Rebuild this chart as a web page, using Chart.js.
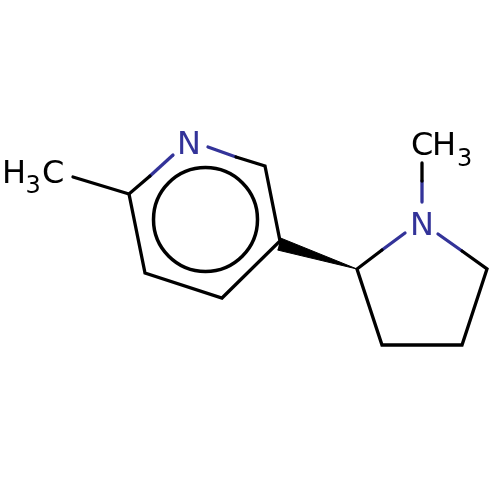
<!DOCTYPE html>
<html>
<head>
<meta charset="utf-8">
<style>html,body{margin:0;padding:0;background:#fff}canvas{display:block}</style>
<script src="https://cdn.jsdelivr.net/npm/chart.js@4"></script>
</head>
<body>
<canvas id="c" width="500" height="500"></canvas>
<script>
const blackBonds = [
  [[73,177],[129,194],[150,176]],
  [[236,157],[265,166],[280,241],[222,298],[145,273],[129,194]],
  [[382,250],[357,269],[382,345],[462,345],[487,269],[462,251]],
  [[422,163],[422,181]]
];
const blueBonds = [
  [[150,176],[173,155]],
  [[208,147],[236,157]],
  [[382,250],[405,233]],
  [[438,234],[462,251]],
  [[422,181],[422,202]]
];
const wedge = [[280.5,238],[357,269],[277.5,250]];
const ringCentre = [205.5,219.5];
const labels = [
  {t:'H',x:2,y:183,s:32,c:'#000000'},
  {t:'3',x:25.5,y:193,s:24,c:'#000000'},
  {t:'C',x:42,y:183,s:32,c:'#000000'},
  {t:'N',x:177,y:154,s:32,c:'#333399'},
  {t:'N',x:410,y:235,s:32,c:'#333399'},
  {t:'C',x:411,y:155,s:32,c:'#000000'},
  {t:'H',x:432,y:155,s:32,c:'#000000'},
  {t:'3',x:457,y:166,s:24,c:'#000000'}
];
const toPts = a => a.map(p => ({x:p[0],y:p[1]}));
const lineDs = (pts,color) => ({type:'scatter',data:toPts(pts),showLine:true,borderColor:color,borderWidth:3.3,pointRadius:0,fill:false,borderCapStyle:'round',borderJoinStyle:'miter',tension:0});
const datasets = [
  ...blackBonds.map(b => lineDs(b,'#000000')),
  ...blueBonds.map(b => lineDs(b,'#333399')),
  {type:'scatter',data:toPts(wedge),showLine:true,borderColor:'#000000',backgroundColor:'#000000',borderWidth:1,pointRadius:0,fill:'shape',tension:0},
  {type:'scatter',data:[{x:ringCentre[0],y:ringCentre[1]}],pointStyle:'circle',pointRadius:52,pointBorderWidth:3.5,pointBorderColor:'#000000',pointBackgroundColor:'rgba(0,0,0,0)',showLine:false}
];
const textPlugin = {
  id:'atomLabels',
  afterDatasetsDraw(chart){
    const {ctx,scales:{x,y}} = chart;
    ctx.save();
    ctx.textAlign='left';
    ctx.textBaseline='alphabetic';
    labels.forEach(l => {
      ctx.font = l.s+'px "DejaVu Sans"';
      ctx.fillStyle = l.c;
      ctx.fillText(l.t,x.getPixelForValue(l.x),y.getPixelForValue(l.y));
    });
    ctx.restore();
  }
};
new Chart(document.getElementById('c'),{
  type:'scatter',
  data:{datasets},
  plugins:[textPlugin],
  options:{
    responsive:false,animation:false,
    layout:{padding:0,autoPadding:false},
    plugins:{legend:{display:false},tooltip:{enabled:false},title:{display:false}},
    scales:{
      x:{type:'linear',min:0,max:500,display:false},
      y:{type:'linear',min:0,max:500,reverse:true,display:false}
    }
  }
});
</script>
</body>
</html>
